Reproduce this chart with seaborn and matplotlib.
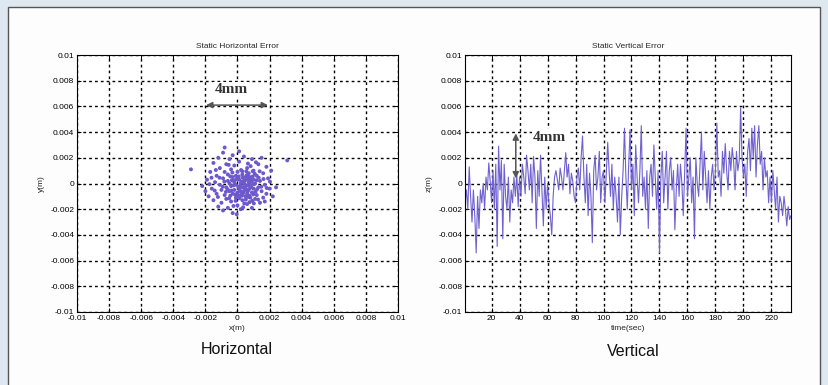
import numpy as np
import pandas as pd
import matplotlib
matplotlib.use("Agg")
import matplotlib.pyplot as plt
from matplotlib.patches import Rectangle
import seaborn as sns

# ---------------- data ----------------
# Horizontal error scatter (values in mm, converted to metres)
hx_mm = [-2.9, 3.1, 2.4, -2.2, -2.0, -1.9, -1.8, -1.7, -1.6, -1.5,
         -1.5, -1.4, -1.3, -1.3, -1.2, -1.2, -1.1, -1.1, -1.0, -1.0,
         -0.9, -0.9, -0.9, -0.8, -0.8, -0.8, -0.7, -0.7, -0.7, -0.6,
         -0.6, -0.6, -0.5, -0.5, -0.5, -0.4, -0.4, -0.4, -0.3, -0.3,
         -0.3, -0.3, -0.2, -0.2, -0.2, -0.1, -0.1, -0.1, 0.0, 0.0,
         0.0, 0.1, 0.1, 0.1, 0.2, 0.2, 0.2, 0.3, 0.3, 0.3,
         0.4, 0.4, 0.4, 0.5, 0.5, 0.5, 0.6, 0.6, 0.6, 0.7,
         0.7, 0.7, 0.8, 0.8, 0.8, 0.9, 0.9, 0.9, 1.0, 1.0,
         1.0, 1.1, 1.1, 1.2, 1.2, 1.3, 1.3, 1.4, 1.4, 1.5,
         1.5, 1.6, 1.6, 1.7, 1.8, 1.8, 1.9, 2.0, 2.1, 2.2,
         0.05, 0.15, 0.25, 0.35, 0.45, 0.55, 0.65, 0.75, 0.85, 0.95,
         -0.05, -0.15, -0.25, -0.35, -0.45, 0.12, 0.32, 0.52, 0.72, 0.92,
         1.12, 1.32, -0.62, -0.82, 0.22, 0.42, 0.62, 0.82, 1.02, -0.12,
         -0.32, -0.52, 0.08, 0.28, 0.48, 0.68, 0.88, 1.08, 1.28, 1.48,
         -0.72, -0.92, -1.12, 0.18, 0.38, 0.58, 0.78, 0.98, 1.18, 1.38,
         -0.18, -0.38, 0.02, 0.22, 0.42, 0.62, 0.82, 1.02, 1.22, 1.62,
         1.82, 2.02, -1.42, -1.62, -1.22, 0.35, 0.65, -0.25, 1.15, -0.55,
         0.1, -1.35, 1.7, -0.05, 0.55, 0.75, 0.95, 0.3, -0.45, -1.75]
hy_mm = [1.1, 1.8, -0.3, -0.2, -0.6, 0.3, -1.0, 0.9, -0.4, 1.6,
         -1.3, 0.1, -0.8, 0.6, 2.0, -1.8, -0.1, 1.2, -0.5, -1.5,
         0.4, 2.4, -2.1, -0.9, 0.9, 2.8, -0.3, 1.5, -1.2, 0.2,
         -1.9, 0.7, -0.6, 1.9, 0.0, -1.4, 1.1, -0.2, 0.5, -0.8,
         2.2, -2.3, 0.1, -0.5, 1.4, -1.1, 0.6, -0.1, -0.7, 0.9,
         -1.7, 0.3, -0.4, 1.7, -0.9, 0.0, -2.0, 0.7, -0.3, -1.3,
         0.2, -0.6, 2.1, -1.0, 0.5, -0.2, 1.2, -0.8, -1.6, 0.1,
         -0.5, 0.8, -1.1, 0.4, -0.1, 1.9, -0.7, -1.9, 0.3, -0.4,
         1.0, -1.2, 0.0, 0.6, -0.9, 1.5, -0.3, -1.5, 0.2, 2.0,
         -0.6, 0.8, -1.1, -0.1, 1.3, -0.8, 0.4, -0.4, 1.0, -1.0,
         -0.25, -0.55, 0.15, -0.75, -0.05, -0.45, 0.35, -0.95, -0.25, 0.55,
         0.35, -0.85, -0.15, 0.25, -0.95, -1.15, 0.45, -1.25, 0.55, -1.35,
         -0.65, 0.45, -0.45, 0.15, 1.05, -1.55, -0.15, 1.35, -1.55, -1.35,
         0.85, -1.15, 0.55, -0.95, 0.25, -1.05, 0.15, 0.75, -1.25, -0.25,
         -0.65, -0.25, 0.45, -0.15, 0.05, 0.65, -0.35, -0.85, 0.25, 0.95,
         0.25, -0.55, -0.95, -0.65, -0.35, -0.65, 0.25, -0.05, -0.45, 0.35,
         -0.35, 0.15, -0.55, 0.45, -1.05, -1.85, 1.55, -1.75, 1.65, 1.45,
         2.5, 1.05, -1.4, -2.4, 0.95, -1.45, 0.95, 0.95, 0.55, -0.05]

# Vertical error time series (t in s, z in mm)
t_sec = list(range(1, 235))
z_mm = [-1.5, -0.5, -2.0, 1.3, -1.0, -3.0, -0.5, -2.5, -5.4, -1.0,
        -3.5, -0.5, -1.5, 0.0, -2.0, 0.5, -0.5, 1.6, 0.2, -1.5,
        1.0, -2.0, 1.5, -4.9, 2.9, -0.5, 1.8, -4.3, 1.5, -1.0,
        -2.0, 0.5, -3.0, -0.5, -1.5, 0.5, -1.0, 0.8, -1.8, 0.5,
        -1.0, 1.5, 0.5, -0.8, 2.2, 1.0, -0.5, 1.5, -1.5, 2.1,
        0.5, -3.5, 1.0, -1.0, 2.2, -0.5, -3.3, 0.5, -2.0, 0.0,
        -1.5, -2.5, -4.0, -1.0, 0.5, 1.0, 0.3, -0.5, 1.2, 0.5,
        -0.5, 1.0, 2.4, 0.5, 1.5, -0.8, 0.8, 0.2, -1.0, -1.5,
        0.5, 1.2, -0.5, 2.0, 3.7, 0.5, -1.5, 1.5, -2.5, 0.8,
        -1.0, -4.6, 1.0, 2.2, -0.5, 0.5, 2.5, -1.5, 0.5, 1.0,
        -1.5, 0.8, 3.2, 1.0, -1.0, 1.5, -2.0, 0.5, -1.0, -3.0,
        0.5, -4.0, -1.0, 1.0, 4.3, 0.5, -2.0, 1.5, 4.2, -0.5,
        1.5, -2.5, 3.0, 0.5, -1.5, 1.0, 4.5, -1.0, 0.5, -2.0,
        1.0, -3.5, 0.5, 1.5, -1.0, 3.0, 0.5, -2.0, 1.0, -5.4,
        0.5, 2.5, -1.5, 0.5, 2.5, -2.0, 1.0, 2.0, -0.5, 1.0,
        -3.6, -0.5, 1.5, -1.0, 1.5, 0.0, -2.5, 1.0, 4.3, -1.0,
        0.5, 2.0, -1.5, 0.5, -4.3, 2.0, 0.0, -1.0, 1.5, 4.0,
        -0.5, 2.5, 0.5, -1.5, 1.0, -2.0, 0.5, 1.5, -0.5, 1.0,
        4.7, 0.5, 1.0, -1.0, 2.5, 0.8, 3.1, 1.0, -0.5, 2.5,
        1.0, 2.8, 1.7, -0.5, 2.5, 1.0, 1.8, 5.9, 2.0, 0.5,
        1.5, -1.0, 2.5, 3.5, 1.0, 4.3, 2.0, 4.5, 0.5, 3.0,
        4.5, 1.5, 2.5, -0.5, 2.0, 0.5, 1.0, -1.5, 0.5, -1.5,
        1.0, -0.5, -2.0, 0.5, -3.0, -1.0, -1.5, -2.5, -1.0, -2.0,
        -3.3, -1.8, -2.8, -2.5]

err_ticks = [-0.01, -0.008, -0.006, -0.004, -0.002, 0, 0.002, 0.004, 0.006, 0.008, 0.01]
err_labels = ["-0.01", "-0.008", "-0.006", "-0.004", "-0.002", "0",
              "0.002", "0.004", "0.006", "0.008", "0.01"]
time_ticks = [20, 40, 60, 80, 100, 120, 140, 160, 180, 200, 220]

df_h = pd.DataFrame({"x": np.array(hx_mm) / 1000.0, "y": np.array(hy_mm) / 1000.0})
df_v = pd.DataFrame({"t": t_sec, "z": np.array(z_mm) / 1000.0})

# ---------------- style ----------------
sns.set_theme(style="white")
plt.rcParams["font.family"] = ["Liberation Sans", "DejaVu Sans"]

W, H = 829, 385
fig = plt.figure(figsize=(W / 100, H / 100), dpi=100)
fig.patch.set_facecolor("#dde8f0")

# white inner panel (background axes)
bg = fig.add_axes([0, 0, 1, 1], zorder=-10)
bg.set_xlim(0, W)
bg.set_ylim(H, 0)
bg.axis("off")
bg.add_patch(Rectangle((8, 7), 820 - 8, H, facecolor="#fdfdfd",
                       edgecolor="#555555", linewidth=1.0))

def ax_rect(l, t, r, b):
    return [l / W, 1 - b / H, (r - l) / W, (b - t) / H]

ax1 = fig.add_axes(ax_rect(77, 55, 398, 312))
ax2 = fig.add_axes(ax_rect(465, 55, 791, 312))

pt_color = "#6d58cc"

sns.scatterplot(data=df_h, x="x", y="y", ax=ax1, s=8, color=pt_color,
                edgecolor="none", zorder=3)
sns.lineplot(data=df_v, x="t", y="z", ax=ax2, color="#7060d0", linewidth=0.8,
             zorder=3)

grid_kw = dict(color="black", linestyle=(0, (2.0, 2.2)), linewidth=1.0)
for ax in (ax1, ax2):
    ax.set_facecolor("white")
    ax.set_ylim(-0.01, 0.01)
    ax.set_yticks(err_ticks)
    ax.set_yticklabels(err_labels)
    ax.grid(True, **grid_kw)
    ax.set_axisbelow(False)
    for s in ax.spines.values():
        s.set_color("black")
        s.set_linewidth(0.8)
        s.set_zorder(4)
    ax.tick_params(axis="both", direction="in", length=3, width=0.7,
                   labelsize=6, colors="black", pad=2,
                   top=True, right=True, left=True, bottom=True)

ax1.set_xlim(-0.01, 0.01)
ax1.set_xticks(err_ticks)
ax1.set_xticklabels(err_labels)
ax1.set_xlabel("x(m)", fontsize=6, labelpad=2)
ax1.set_ylabel("y(m)", fontsize=6, labelpad=4)
ax1.set_title("Static Horizontal Error", fontsize=6, pad=5)

ax2.set_xlim(1, 234)
ax2.set_xticks(time_ticks)
ax2.set_xlabel("time(sec)", fontsize=6, labelpad=2)
ax2.set_ylabel("z(m)", fontsize=6, labelpad=4)
ax2.set_title("Static Vertical Error", fontsize=6, pad=5)

# annotations
arrow_kw = dict(arrowstyle="<|-|>", color="#555555", lw=1.1,
                mutation_scale=9, shrinkA=0, shrinkB=0)
txt_kw = dict(fontsize=11, fontweight="bold",
              family=["Liberation Serif", "DejaVu Serif"], ha="center",
              va="center", color="#333333", zorder=6,
              bbox=dict(facecolor="white", edgecolor="none", pad=1.0))
ax1.annotate("", xy=(-0.00196, 0.0061), xytext=(0.0019, 0.0061),
             arrowprops=arrow_kw, zorder=5)
ax1.text(-0.0004, 0.0073, "4mm", **txt_kw)
ax2.annotate("", xy=(37.3, 0.0039), xytext=(37.3, 0.0004),
             arrowprops=arrow_kw, zorder=5)
ax2.text(61.5, 0.0036, "4mm", **txt_kw)

fig.text(237 / W, 1 - 350 / H, "Horizontal", fontsize=11.5, ha="center",
         va="center", color="#111111")
fig.text(633 / W, 1 - 351 / H, "Vertical", fontsize=11.5, ha="center",
         va="center", color="#111111")

fig.savefig("out.png", dpi=100, facecolor=fig.get_facecolor())
